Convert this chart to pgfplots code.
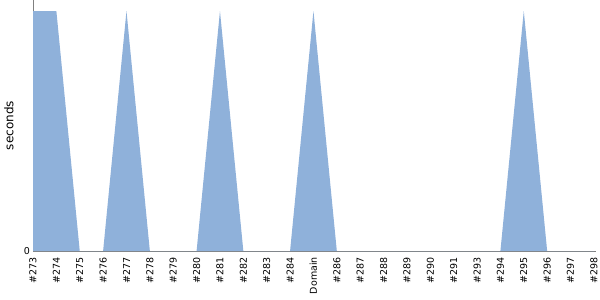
\documentclass[border=0pt]{standalone}
\usepackage{pgfplots}
\pgfplotsset{compat=1.18}
\usepackage{fontspec}
\setmainfont{DejaVu Sans}
\definecolor{fillc}{RGB}{143,177,218}
\definecolor{axc}{RGB}{128,128,128}
\begin{document}
\begin{tikzpicture}
\useasboundingbox (-33pt,-49pt) rectangle (567pt,251pt);
\begin{axis}[
  scale only axis,
  width=563pt, height=251pt,
  xmin=0, xmax=24.09, ymin=0, ymax=1.046,
  axis x line*=bottom, axis y line*=left,
  axis line style={axc, line width=0.8pt},
  every outer x axis line/.append style={-}, every outer y axis line/.append style={-},
  xtick={0,...,24},
  xticklabels={\#273,\#274,\#275,\#276,\#277,\#278,\#279,\#280,\#281,\#282,\#283,\#284,Domain,\#286,\#287,\#288,\#289,\#290,\#291,\#293,\#294,\#295,\#296,\#297,\#298},
  x tick label style={rotate=90, anchor=east, font=\fontsize{9.5}{10}\selectfont, inner ysep=0pt, inner xsep=6pt},
  ytick={0},
  y tick label style={font=\fontsize{9.5}{10}\selectfont, inner xsep=3pt},
  major tick length=0pt,
  ylabel={seconds},
  ylabel style={font=\fontsize{12}{13}\selectfont, at={(-16pt,125.5pt)}, anchor=south},
  /pgf/number format/assume math mode=true,
  clip=false,
]
\addplot[fill=fillc, draw=none] coordinates {
(0,1) (1,1) (2,0) (3,0) (4,1) (5,0) (6,0) (7,0) (8,1) (9,0) (10,0) (11,0) (12,1) (13,0) (14,0) (15,0) (16,0) (17,0) (18,0) (19,0) (20,0) (21,1) (22,0) (23,0) (24,0)
} \closedcycle;
\end{axis}
\end{tikzpicture}
\end{document}
